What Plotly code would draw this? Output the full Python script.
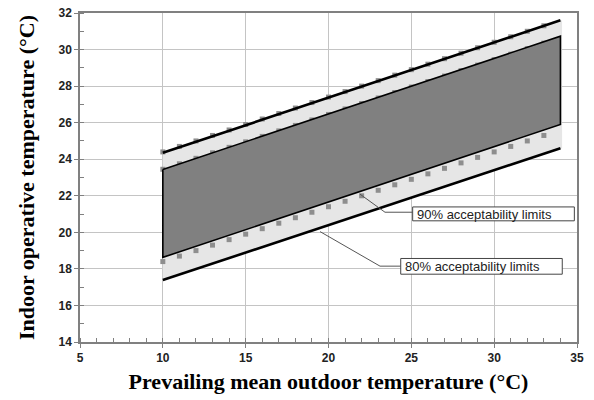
import plotly.graph_objects as go

# ---- data ----
x_ends = [10, 34]
upper80 = [24.35, 31.6]
lower80 = [17.39, 24.6]
upper90 = [23.44, 30.73]
lower90 = [18.63, 25.9]
x_band = [10, 34.1]

x_sq = [10, 11, 12, 13, 14, 15, 16, 17, 18, 19, 20, 21, 22, 23, 24, 25, 26, 27, 28, 29, 30, 31, 32, 33]
upper80_sq = [24.4, 24.7, 25.0, 25.3, 25.6, 25.9, 26.2, 26.5, 26.8, 27.1, 27.4, 27.7,
              28.0, 28.3, 28.6, 28.9, 29.2, 29.5, 29.8, 30.1, 30.4, 30.7, 31.0, 31.3]
upper90_sq = [23.45, 23.75, 24.05, 24.35, 24.65, 24.95, 25.25, 25.55, 25.85, 26.15, 26.45, 26.75,
              27.05, 27.35, 27.65, 27.95, 28.25, 28.55, 28.85, 29.15, 29.45, 29.75, 30.05, 30.35]
lower90_sq = [18.4, 18.7, 19.0, 19.3, 19.6, 19.9, 20.2, 20.5, 20.8, 21.1, 21.4, 21.7,
              22.0, 22.3, 22.6, 22.9, 23.2, 23.5, 23.8, 24.1, 24.4, 24.7, 25.0, 25.3]

label90 = "90% acceptability limits"
label80 = "80% acceptability limits"
x_title = "Prevailing mean outdoor temperature (°C)"
y_title = "Indoor operative temperature (°C)"

fig = go.Figure()

# light 80% band
fig.add_trace(go.Scatter(
    x=[x_band[0], x_band[1], x_band[1], x_band[0]],
    y=[upper80[0], upper80[1], lower80[1], lower80[0]],
    fill="toself", fillcolor="#e6e6e6", line=dict(width=0),
    mode="lines", hoverinfo="skip", showlegend=False))

# square markers
for ys in (upper80_sq, upper90_sq, lower90_sq):
    fig.add_trace(go.Scatter(
        x=x_sq, y=ys, mode="markers",
        marker=dict(symbol="square", size=5, color="#8e8e8e"),
        hoverinfo="skip", showlegend=False))

# dark 90% band
fig.add_trace(go.Scatter(
    x=[x_ends[0], x_ends[1], x_ends[1], x_ends[0], x_ends[0]],
    y=[upper90[0], upper90[1], lower90[1], lower90[0], upper90[0]],
    fill="toself", fillcolor="#808080", line=dict(color="#000000", width=1.6),
    mode="lines", hoverinfo="skip", showlegend=False))

# 80% lines
for ys in (upper80, lower80):
    fig.add_trace(go.Scatter(
        x=x_ends, y=ys, mode="lines",
        line=dict(color="#000000", width=2.6),
        hoverinfo="skip", showlegend=False))

# leader lines and label boxes
fig.add_shape(type="path", path="M 21.90 22.09 L 23.41 21.10 L 25.08 21.10",
              line=dict(color="#555555", width=1), xref="x", yref="y")
fig.add_shape(type="path", path="M 19.49 20.04 L 23.11 18.15 L 24.36 18.15",
              line=dict(color="#555555", width=1), xref="x", yref="y")
fig.add_shape(type="rect", x0=25.08, x1=34.84, y0=20.63, y1=21.39,
              line=dict(color="#444444", width=1), fillcolor="white", xref="x", yref="y")
fig.add_shape(type="rect", x0=24.36, x1=34.11, y0=17.71, y1=18.57,
              line=dict(color="#444444", width=1), fillcolor="white", xref="x", yref="y")

boxfont = dict(family="Liberation Sans, Arial", size=13, color="#222222")
fig.add_annotation(x=25.2, y=21.0, text=label90, showarrow=False, xanchor="left",
                   yanchor="middle", font=boxfont)
fig.add_annotation(x=24.48, y=18.13, text=label80, showarrow=False, xanchor="left",
                   yanchor="middle", font=boxfont)

tickfont = dict(family="Liberation Sans, Arial", size=12, color="#222222", weight="bold")
titlefont = dict(family="Liberation Serif, Times New Roman", size=22, color="#000000", weight="bold")

fig.update_xaxes(range=[5, 35], dtick=5, tick0=5, showgrid=True, gridcolor="#c4c4c4", gridwidth=1,
                 showline=True, linecolor="#808080", linewidth=1.5, mirror=True,
                 ticks="outside", ticklen=4, tickcolor="#808080",
                 minor=dict(dtick=1, ticks="inside", ticklen=4, tickcolor="#808080", showgrid=False),
                 tickfont=tickfont, zeroline=False, automargin=False,
                 title=dict(text=x_title, font=titlefont, standoff=9))
fig.update_yaxes(range=[14, 32], dtick=2, tick0=14, showgrid=True, gridcolor="#c4c4c4", gridwidth=1,
                 showline=True, linecolor="#808080", linewidth=1.5, mirror=True,
                 ticks="outside", ticklen=4, tickcolor="#808080",
                 minor=dict(dtick=1, ticks="inside", ticklen=4, tickcolor="#808080", showgrid=False),
                 tickfont=tickfont, zeroline=False, automargin=False,
                 title=dict(text=y_title, font=titlefont, standoff=18))

fig.update_layout(width=594, height=400, margin=dict(l=80, r=17, t=13, b=58),
                  paper_bgcolor="white", plot_bgcolor="white", showlegend=False)

fig.write_html("out.html")
